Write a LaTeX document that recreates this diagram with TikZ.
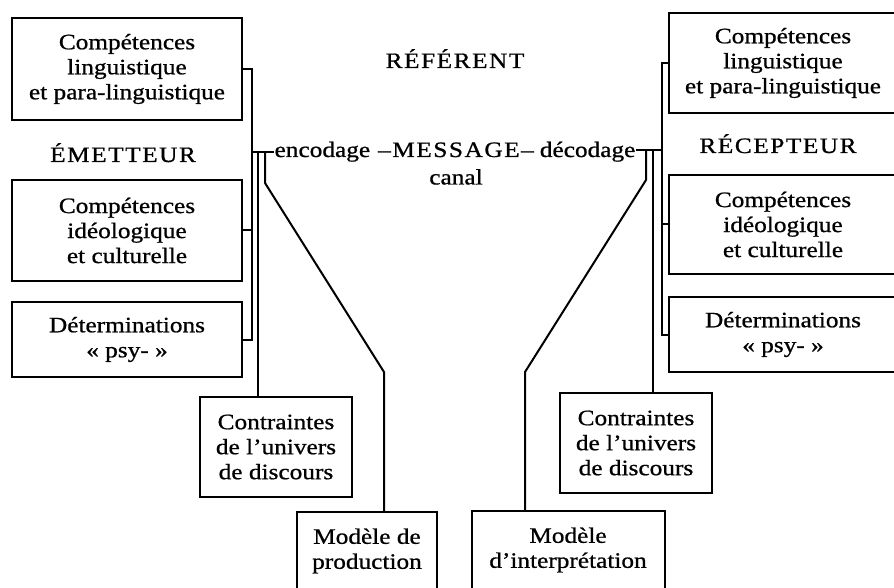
\documentclass[tikz,border=0pt]{standalone}
\usepackage{fontspec}
\setmainfont{Liberation Serif}[FakeStretch=1.15,FakeBold=0.8]
\usetikzlibrary{positioning}

\begin{document}
\begin{tikzpicture}[x=1pt,y=-1pt,line width=2pt,
 font=\fontsize{22}{25}\selectfont,
 box/.style={draw,align=center,inner sep=0pt},
 txt/.style={inner sep=0pt},
 caps/.style={txt,font=\fontsize{22}{25}\selectfont\addfontfeature{LetterSpace=7}}]
 \useasboundingbox (0,0) rectangle (894,588);

 % emetteur
 \node[box,minimum width=230pt,minimum height=102pt] (e_comp) at (127,69) {Compétences\\linguistique\\et para-linguistique};
 \node[box,minimum width=230pt,minimum height=101pt] (e_ideo) [below=58pt of e_comp] {Compétences\\idéologique\\et culturelle};
 \node[box,minimum width=230pt,minimum height=75pt] (e_psy) [below=19pt of e_ideo] {Déterminations\\« psy- »};
 \node[box,minimum width=152pt,minimum height=100pt] (e_contr) at (276,447) {Contraintes\\de l’univers\\de discours};
 \node[box,minimum width=140pt,minimum height=78pt] (e_model) at (367,551) {Modèle de\\production};
 \node[caps,anchor=base] (emetteur) at (123,162) {ÉMETTEUR};

 % recepteur
 \node[box,minimum width=228pt,minimum height=100pt] (r_comp) at (783,63) {Compétences\\linguistique\\et para-linguistique};
 \node[box,minimum width=228pt,minimum height=99pt] (r_ideo) [below=60pt of r_comp] {Compétences\\idéologique\\et culturelle};
 \node[box,minimum width=228pt,minimum height=75pt] (r_psy) [below=21pt of r_ideo] {Déterminations\\« psy- »};
 \node[box,minimum width=152pt,minimum height=100pt] (r_contr) at (636,443) {Contraintes\\de l’univers\\de discours};
 \node[box,minimum width=193pt,minimum height=78pt] (r_model) at (568,550) {Modèle\\d’interprétation};
 \node[caps,anchor=base] (recepteur) at (778,153) {RÉCEPTEUR};

 % message
 \node[caps,anchor=base] (referent) at (455,68) {RÉFÉRENT};
 \node[caps,anchor=base] (msg) at (456,157) {–MESSAGE–};
 \node[txt] (enc) [base left=6pt of msg] {encodage};
 \node[txt] (dec) [base right=4pt of msg] {décodage};
 \node[txt] (canal) [below=10pt of msg] {canal};

 \coordinate (e_bus) at (252,152);
 \coordinate (e_can) at (258,152);
 \coordinate (e_mod) at (265,152);
 \coordinate (e_k1) at (265,183);
 \coordinate (e_k2) at (384,372);

 \coordinate (r_bus) at (662,150);
 \coordinate (r_can) at (653,150);
 \coordinate (r_mod) at (646,150);
 \coordinate (r_k1) at (646,180);
 \coordinate (r_k2) at (525,372);

 \draw (e_comp.east) -| (e_bus) |- (e_psy.east);
 \draw (e_ideo.east) -- (e_ideo.east -| e_bus);
 \draw (e_bus) -- (e_bus -| enc.west);
 \draw (e_can) -- (e_can |- e_contr.north);
 \draw (e_mod) -- (e_k1) -- (e_k2) -- (e_k2 |- e_model.north);

 \draw (r_comp.west) -| (r_bus) |- (r_psy.west);
 \draw (r_ideo.west) -- (r_ideo.west -| r_bus);
 \draw (r_bus) -- (r_bus -| dec.east);
 \draw (r_can) -- (r_can |- r_contr.north);
 \draw (r_mod) -- (r_k1) -- (r_k2) -- (r_k2 |- r_model.north);
\end{tikzpicture}
\end{document}
